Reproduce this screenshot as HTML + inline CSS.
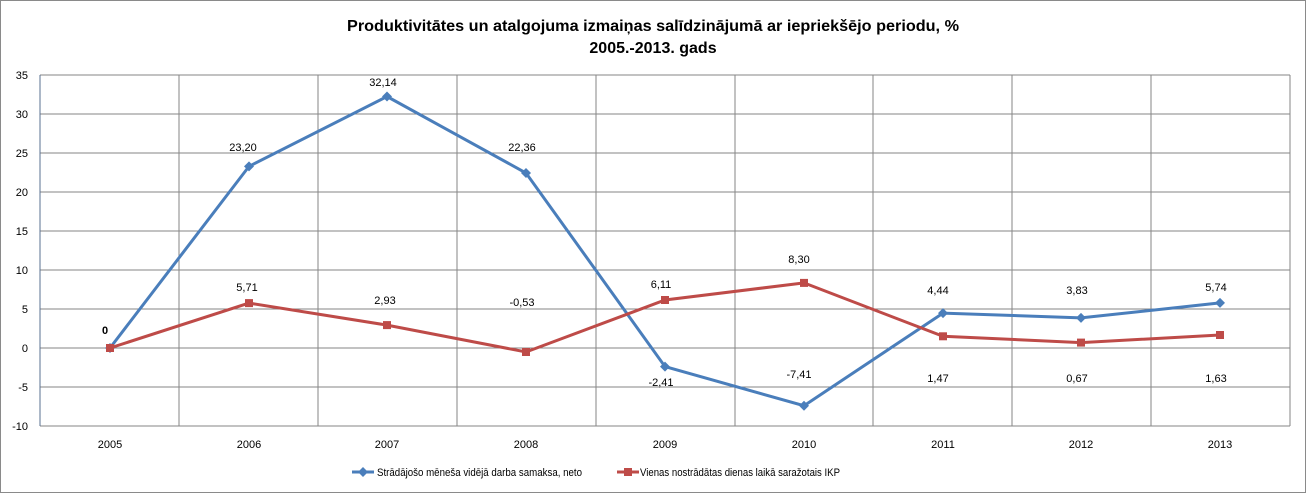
<!DOCTYPE html>
<html><head><meta charset="utf-8"><style>
body{margin:0;background:#fff}
svg{display:block;font-family:"Liberation Sans",sans-serif}
</style></head><body>
<svg width="1307" height="494" viewBox="0 0 1307 494">
<rect x="0.5" y="0.5" width="1305" height="492" fill="#fff" stroke="#8a8a8a"/>
<text x="653" y="31" text-anchor="middle" font-size="16" font-weight="bold" textLength="612" lengthAdjust="spacingAndGlyphs">Produktivitātes un atalgojuma izmaiņas salīdzinājumā ar iepriekšējo periodu, %</text>
<text x="653" y="53" text-anchor="middle" font-size="16" font-weight="bold">2005.-2013. gads</text>
<g stroke="#868686" stroke-width="1" shape-rendering="crispEdges">
<line x1="40" y1="75" x2="1290" y2="75"/><line x1="40" y1="114" x2="1290" y2="114"/>
<line x1="40" y1="153" x2="1290" y2="153"/><line x1="40" y1="192" x2="1290" y2="192"/>
<line x1="40" y1="231" x2="1290" y2="231"/><line x1="40" y1="270" x2="1290" y2="270"/>
<line x1="40" y1="309" x2="1290" y2="309"/><line x1="40" y1="348" x2="1290" y2="348"/>
<line x1="40" y1="387" x2="1290" y2="387"/><line x1="40" y1="426" x2="1290" y2="426"/>
<line x1="179" y1="75" x2="179" y2="426"/><line x1="318" y1="75" x2="318" y2="426"/>
<line x1="457" y1="75" x2="457" y2="426"/><line x1="596" y1="75" x2="596" y2="426"/>
<line x1="735" y1="75" x2="735" y2="426"/><line x1="873" y1="75" x2="873" y2="426"/>
<line x1="1012" y1="75" x2="1012" y2="426"/><line x1="1151" y1="75" x2="1151" y2="426"/>
<line x1="1290" y1="75" x2="1290" y2="426"/>
<line x1="40" y1="75" x2="40" y2="426" stroke="#5a7090"/>
</g>
<g font-size="11" text-anchor="end">
<text x="28" y="79">35</text><text x="28" y="118">30</text><text x="28" y="157">25</text>
<text x="28" y="196">20</text><text x="28" y="235">15</text><text x="28" y="274">10</text>
<text x="28" y="313">5</text><text x="28" y="352">0</text><text x="28" y="391">-5</text><text x="28" y="430">-10</text>
</g>
<g font-size="11" text-anchor="middle">
<text x="110" y="448">2005</text><text x="249" y="448">2006</text><text x="387" y="448">2007</text>
<text x="526" y="448">2008</text><text x="665" y="448">2009</text><text x="804" y="448">2010</text>
<text x="943" y="448">2011</text><text x="1081" y="448">2012</text><text x="1220" y="448">2013</text>
</g>
<polyline fill="none" stroke="#4a7ebb" stroke-width="3" points="110,348 249,166.4 387,96.5 526,173 665,366.6 804,405.7 943,313.1 1081,317.9 1220,302.9"/>
<g fill="#4a7ebb">
<path d="M110,343 l5,5 -5,5 -5,-5z"/><path d="M249,161.4 l5,5 -5,5 -5,-5z"/><path d="M387,91.5 l5,5 -5,5 -5,-5z"/>
<path d="M526,168 l5,5 -5,5 -5,-5z"/><path d="M665,361.6 l5,5 -5,5 -5,-5z"/><path d="M804,400.7 l5,5 -5,5 -5,-5z"/>
<path d="M943,308.1 l5,5 -5,5 -5,-5z"/><path d="M1081,312.9 l5,5 -5,5 -5,-5z"/><path d="M1220,297.9 l5,5 -5,5 -5,-5z"/>
</g>
<polyline fill="none" stroke="#be4b48" stroke-width="3" points="110,348 249,303.1 387,325.1 526,352 665,300 804,282.9 943,336.3 1081,342.6 1220,335"/>
<g fill="#be4b48">
<rect x="106" y="344" width="8" height="8"/><rect x="245" y="299.1" width="8" height="8"/><rect x="383" y="321.1" width="8" height="8"/>
<rect x="522" y="348" width="8" height="8"/><rect x="661" y="296" width="8" height="8"/><rect x="800" y="278.9" width="8" height="8"/>
<rect x="939" y="332.3" width="8" height="8"/><rect x="1077" y="338.6" width="8" height="8"/><rect x="1216" y="331" width="8" height="8"/>
</g>
<g font-size="11" text-anchor="middle">
<text x="105" y="334" font-weight="bold">0</text>
<text x="243" y="151">23,20</text><text x="383" y="86">32,14</text><text x="522" y="151">22,36</text>
<text x="661" y="386">-2,41</text><text x="799" y="378">-7,41</text><text x="938" y="294">4,44</text>
<text x="1077" y="294">3,83</text><text x="1216" y="291">5,74</text>
<text x="247" y="291">5,71</text><text x="385" y="304">2,93</text><text x="522" y="306">-0,53</text>
<text x="661" y="288">6,11</text><text x="799" y="263">8,30</text><text x="938" y="382">1,47</text>
<text x="1077" y="382">0,67</text><text x="1216" y="382">1,63</text>
</g>
<line x1="352" y1="472" x2="374" y2="472" stroke="#4a7ebb" stroke-width="3"/>
<path d="M363,467 l5,5 -5,5 -5,-5z" fill="#4a7ebb"/>
<text x="377" y="476" font-size="11" textLength="205" lengthAdjust="spacingAndGlyphs">Strādājošo mēneša vidējā darba samaksa, neto</text>
<line x1="617" y1="472" x2="639" y2="472" stroke="#be4b48" stroke-width="3"/>
<rect x="624" y="468" width="8" height="8" fill="#be4b48"/>
<text x="640" y="476" font-size="11" textLength="200" lengthAdjust="spacingAndGlyphs">Vienas nostrādātas dienas laikā saražotais IKP</text>
</svg>
</body></html>
